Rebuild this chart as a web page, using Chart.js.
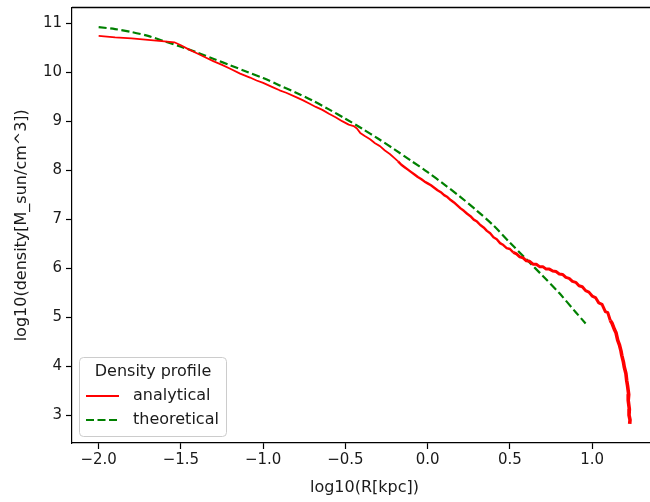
<!DOCTYPE html>
<html>
<head>
<meta charset="utf-8">
<script src="https://cdn.jsdelivr.net/npm/chart.js@4.4.1/dist/chart.umd.min.js"></script>
<style>
	html, body { margin: 0; padding: 0; background: #fff; overflow: hidden; }
	#wrap { position: relative; width: 657px; height: 502px; }
	#chart { display: block; width: 657px; height: 502px; }
</style>
</head>
<body>
<div id="wrap"><canvas id="chart" width="657" height="502"></canvas></div>
<script>
// analytical profile (log10 R, log10 density)
const analyticalR = [
	-2.00, -1.90, -1.80, -1.70, -1.60, -1.54, -1.50, -1.45, -1.40, -1.35,
	-1.30, -1.25, -1.20, -1.14, -1.08, -1.04, -1.00, -0.94, -0.90, -0.86,
	-0.80, -0.76, -0.72, -0.68, -0.64, -0.60, -0.56, -0.52, -0.48, -0.45,
	-0.43, -0.41, -0.38, -0.35, -0.32, -0.29, -0.26, -0.23, -0.20, -0.18,
	-0.16, -0.14, -0.12, -0.10, -0.08, -0.06, -0.04, -0.02, 0.00, 0.02,
	0.04, 0.06, 0.08, 0.10, 0.12, 0.14, 0.16, 0.18, 0.20, 0.22,
	0.24, 0.26, 0.28, 0.30, 0.32, 0.34, 0.36, 0.38, 0.40, 0.42,
	0.44, 0.46, 0.48, 0.50, 0.52, 0.54, 0.56, 0.58, 0.60, 0.62,
	0.64, 0.66, 0.68, 0.70, 0.72, 0.74, 0.76, 0.78, 0.80, 0.82,
	0.84, 0.86, 0.88, 0.90, 0.92, 0.94, 0.96, 0.98, 1.00, 1.02,
	1.04, 1.06, 1.08, 1.095, 1.11, 1.12, 1.135, 1.145, 1.155, 1.165,
	1.175, 1.18, 1.19, 1.195, 1.205, 1.21, 1.215, 1.222, 1.219, 1.226,
	1.224, 1.23, 1.228,
];
const analyticalDensity = [
	10.74, 10.71, 10.69, 10.66, 10.63, 10.61, 10.55, 10.46, 10.38, 10.30,
	10.22, 10.15, 10.07, 9.97, 9.89, 9.83, 9.78, 9.69, 9.63, 9.58,
	9.49, 9.43, 9.36, 9.29, 9.23, 9.15, 9.08, 9.00, 8.93, 8.90,
	8.85, 8.76, 8.69, 8.63, 8.55, 8.49, 8.40, 8.33, 8.24, 8.18,
	8.11, 8.06, 8.01, 7.96, 7.91, 7.86, 7.82, 7.77, 7.73, 7.69,
	7.64, 7.59, 7.55, 7.49, 7.45, 7.39, 7.34, 7.28, 7.22, 7.17,
	7.11, 7.06, 6.99, 6.95, 6.88, 6.83, 6.76, 6.71, 6.63, 6.59,
	6.51, 6.47, 6.41, 6.39, 6.32, 6.29, 6.23, 6.21, 6.15, 6.14,
	6.08, 6.08, 6.03, 6.03, 5.98, 5.98, 5.94, 5.93, 5.88, 5.87,
	5.81, 5.79, 5.73, 5.71, 5.64, 5.62, 5.54, 5.51, 5.43, 5.40,
	5.29, 5.26, 5.11, 5.09, 4.93, 4.88, 4.75, 4.68, 4.53, 4.44,
	4.31, 4.22, 4.08, 3.98, 3.85, 3.70, 3.60, 3.42, 3.30, 3.12,
	3.00, 2.90, 2.82,
];

// theoretical profile
const theoreticalR = [
	-2.0, -1.9, -1.8, -1.7, -1.6, -1.5, -1.4, -1.3, -1.2, -1.1,
	-1.0, -0.9, -0.8, -0.7, -0.6, -0.5, -0.4, -0.3, -0.2, -0.1,
	0.0, 0.1, 0.2, 0.3, 0.4, 0.5, 0.6, 0.7, 0.8, 0.9, 0.96,
];
const theoreticalDensity = [
	10.92, 10.88, 10.82, 10.74, 10.63, 10.52, 10.40, 10.27, 10.14, 10.01,
	9.88, 9.73, 9.58, 9.42, 9.24, 9.05, 8.85, 8.64, 8.42, 8.19,
	7.96, 7.71, 7.45, 7.17, 6.87, 6.52, 6.18, 5.84, 5.49, 5.10, 4.87,
];

const xTicks = [-2.0, -1.5, -1.0, -0.5, 0.0, 0.5, 1.0];
const yTicks = [3, 4, 5, 6, 7, 8, 9, 10, 11];

const legendTitle = `Density profile`;

const FONT = `"DejaVu Sans", sans-serif`;
const TEXT = `#1a1a1a`;

const toPoints = (xs, ys) => xs.map((x, i) => ({ x, y: ys[i] }));
const fmt = (v, digits) => {
	const s = Math.abs(v).toFixed(digits);
	return v < 0 ? `\u2212${s}` : s;
};

// the measured curve gets noisier (thicker) at large radius
const noisyWidth = (seg) => {
	const r = seg.p0.parsed.x;
	if (r > 1.1) return 3.6;
	if (r > 0.5) return 3;
	if (r > -0.2) return 2.4;
	return 1.8;
};

// no extra label padding, the axes box is fixed
const clearPadding = (scale) => {
	scale.paddingTop = 0;
	scale.paddingBottom = 0;
	scale.paddingLeft = 0;
	scale.paddingRight = 0;
};

// matplotlib-style legend box in the lower left of the axes
const boxLegend = {
	id: `boxLegend`,
	afterDatasetsDraw(chart) {
		const ctx = chart.ctx;
		const x = 79.5, y = 357.5, w = 147, h = 79;
		ctx.save();
		ctx.fillStyle = `rgba(255,255,255,0.8)`;
		ctx.strokeStyle = `#cccccc`;
		ctx.lineWidth = 1;
		ctx.beginPath();
		ctx.roundRect(x, y, w, h, 4);
		ctx.fill();
		ctx.stroke();

		ctx.fillStyle = TEXT;
		ctx.font = `16px ${FONT}`;
		ctx.textBaseline = `middle`;
		ctx.textAlign = `center`;
		ctx.fillText(legendTitle, x + w / 2, 372);

		ctx.textAlign = `left`;
		const rows = [396, 420];
		chart.data.datasets.forEach((ds, i) => {
			const ry = rows[i];
			ctx.strokeStyle = ds.borderColor;
			ctx.lineWidth = ds.borderWidth;
			ctx.setLineDash(ds.borderDash ?? []);
			ctx.beginPath();
			ctx.moveTo(86, ry);
			ctx.lineTo(119, ry);
			ctx.stroke();
			ctx.setLineDash([]);
			ctx.fillText(ds.label, 133, ry);
		});
		ctx.restore();
	},
};

// top spine of the axes
const topSpine = {
	id: `topSpine`,
	afterDraw(chart) {
		const { ctx, chartArea } = chart;
		const y = Math.floor(chartArea.top) + 0.5;
		ctx.save();
		ctx.strokeStyle = `#000`;
		ctx.lineWidth = 1.4;
		ctx.beginPath();
		ctx.moveTo(chartArea.left, y);
		ctx.lineTo(chartArea.right, y);
		ctx.stroke();
		ctx.restore();
	},
};

new Chart(document.getElementById(`chart`), {
	type: `line`,
	data: {
		datasets: [
			{
				label: `analytical`,
				data: toPoints(analyticalR, analyticalDensity),
				borderColor: `#ff0000`,
				borderWidth: 1.8,
				borderJoinStyle: `round`,
				pointRadius: 0,
				tension: 0,
				segment: { borderWidth: noisyWidth },
			},
			{
				label: `theoretical`,
				data: toPoints(theoreticalR, theoreticalDensity),
				borderColor: `#008000`,
				borderWidth: 2.2,
				borderDash: [8, 3.5],
				pointRadius: 0,
				tension: 0.3,
			},
		],
	},
	options: {
		responsive: false,
		animation: false,
		devicePixelRatio: 1,
		layout: { padding: { top: 7.5, right: 0, left: 0, bottom: 0 } },
		plugins: {
			legend: { display: false },
			tooltip: { enabled: false },
		},
		scales: {
			x: {
				type: `linear`,
				min: -2.162,
				max: 1.394,
				afterBuildTicks: (scale) => {
					scale.ticks = xTicks.map((value) => ({ value }));
				},
				afterFit: (scale) => {
					scale.height = 59;
					clearPadding(scale);
				},
				ticks: {
					color: TEXT,
					font: { family: FONT, size: 15 },
					padding: 2,
					maxRotation: 0,
					autoSkip: false,
					callback: (v) => fmt(v, 1),
				},
				grid: { drawOnChartArea: false, drawTicks: true, tickLength: 6, tickColor: `#000`, tickWidth: 1.2 },
				border: { display: true, color: `#000`, width: 1.2 },
				title: {
					display: true,
					text: `log10(R[kpc])`,
					color: TEXT,
					font: { family: FONT, size: 16 },
					padding: { top: 0, bottom: 5 },
				},
			},
			y: {
				type: `linear`,
				min: 2.43,
				max: 11.32,
				afterBuildTicks: (scale) => {
					scale.ticks = yTicks.map((value) => ({ value }));
				},
				afterFit: (scale) => {
					scale.width = 72;
					clearPadding(scale);
				},
				ticks: {
					color: TEXT,
					font: { family: FONT, size: 15 },
					padding: 4,
					autoSkip: false,
					callback: (v) => String(v),
				},
				grid: { drawOnChartArea: false, drawTicks: true, tickLength: 6, tickColor: `#000`, tickWidth: 1.2 },
				border: { display: true, color: `#000`, width: 1.2 },
				title: {
					display: true,
					text: `log10(density[M_sun/cm^3])`,
					color: TEXT,
					font: { family: FONT, size: 16 },
					padding: { top: 12, bottom: 0 },
				},
			},
		},
	},
	plugins: [boxLegend, topSpine],
});
</script>
</body>
</html>
